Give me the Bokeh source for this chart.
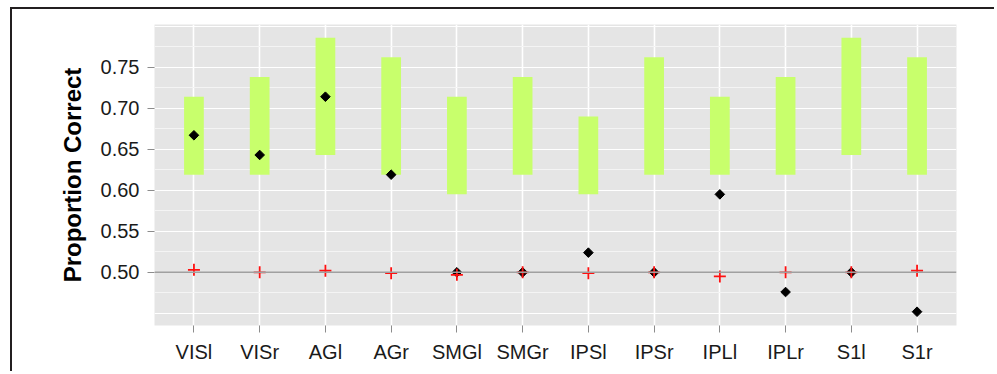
import math
from bokeh.plotting import figure
from bokeh.models import Range1d, FixedTicker, Span, ColumnDataSource
from bokeh.embed import file_html
from bokeh.resources import INLINE

# ---- data ----
regions = ["VISl", "VISr", "AGl", "AGr", "SMGl", "SMGr",
           "IPSl", "IPSr", "IPLl", "IPLr", "S1l", "S1r"]
ci_low = [0.619, 0.619, 0.643, 0.619, 0.595, 0.619,
          0.595, 0.619, 0.619, 0.619, 0.643, 0.619]
ci_high = [0.714, 0.738, 0.786, 0.762, 0.714, 0.738,
           0.690, 0.762, 0.714, 0.738, 0.786, 0.762]
accuracy = [0.667, 0.643, 0.714, 0.619, 0.500, 0.500,
            0.524, 0.500, 0.595, 0.476, 0.500, 0.452]
perm_mean = [0.503, 0.500, 0.502, 0.499, 0.497, 0.500,
             0.499, 0.500, 0.495, 0.500, 0.500, 0.502]
chance = 0.5
y_ticks = [0.50, 0.55, 0.60, 0.65, 0.70, 0.75]
y_grid_major = [0.45, 0.50, 0.55, 0.60, 0.65, 0.70, 0.75, 0.80]
y_grid_minor = [0.425, 0.475, 0.525, 0.575, 0.625, 0.675, 0.725, 0.775]

idx = list(range(1, len(regions) + 1))
src = ColumnDataSource(dict(x=idx, lo=ci_low, hi=ci_high,
                            acc=accuracy, perm=perm_mean))

FONT = "Liberation Sans"

p = figure(width=984, height=364, output_backend="svg", toolbar_location=None,
           x_range=Range1d(0.4, len(regions) + 0.6),
           y_range=Range1d(0.4352, 0.802),
           min_border_left=142, min_border_right=40,
           min_border_top=15, min_border_bottom=48)
p.styles = {"border-left": "2px solid #231f20", "border-top": "2px solid #231f20",
            "margin-left": "10px", "margin-top": "7px"}

p.background_fill_color = "#E5E5E5"
p.border_fill_color = "white"
p.outline_line_color = None

# grids
p.xgrid.ticker = FixedTicker(ticks=idx)
p.xgrid.grid_line_color = "white"
p.xgrid.grid_line_width = 1.6
p.ygrid.ticker = FixedTicker(ticks=y_grid_major, minor_ticks=y_grid_minor)
p.ygrid.grid_line_color = "white"
p.ygrid.grid_line_width = 1.2
p.ygrid.minor_grid_line_color = "#F4F4F4"
p.ygrid.minor_grid_line_width = 1.0

# chance line
p.add_layout(Span(location=chance, dimension="width",
                  line_color="#A0A0A0", line_width=1.5))

# CI bars
p.vbar(x="x", bottom="lo", top="hi", width=0.3, source=src,
       fill_color="#C8FF6C", line_color=None)

# observed accuracy (diamonds)
p.scatter(x="x", y="acc", source=src, marker="square", angle=math.pi / 4,
          size=6.8, fill_color="black", line_color="black")

# permutation mean (red plus)
p.scatter(x="x", y="perm", source=src, marker="cross", size=12,
          line_color="#FF1010", line_width=1.8)

# axes
p.xaxis.ticker = FixedTicker(ticks=idx)
p.xaxis.major_label_overrides = {i: r for i, r in zip(idx, regions)}
p.yaxis.ticker = FixedTicker(ticks=y_ticks)
p.yaxis.major_label_overrides = {t: f"{t:.2f}" for t in y_ticks}
p.yaxis.axis_label = "Proportion Correct"

for ax in (p.xaxis[0], p.yaxis[0]):
    ax.axis_line_color = None
    ax.major_tick_line_color = "#8C8C8C"
    ax.major_tick_line_width = 1
    ax.major_tick_in = 0
    ax.major_tick_out = 7
    ax.minor_tick_line_color = None
    ax.major_label_text_font = FONT
    ax.major_label_text_font_size = "20px"
    ax.major_label_text_color = "#1A1A1A"
    ax.major_label_standoff = 8

p.yaxis.axis_label_text_font = FONT
p.yaxis.axis_label_text_font_size = "24px"
p.yaxis.axis_label_text_font_style = "bold"
p.yaxis.axis_label_text_color = "black"
p.yaxis.axis_label_standoff = 12

open("out.html", "w").write(file_html(p, INLINE))
